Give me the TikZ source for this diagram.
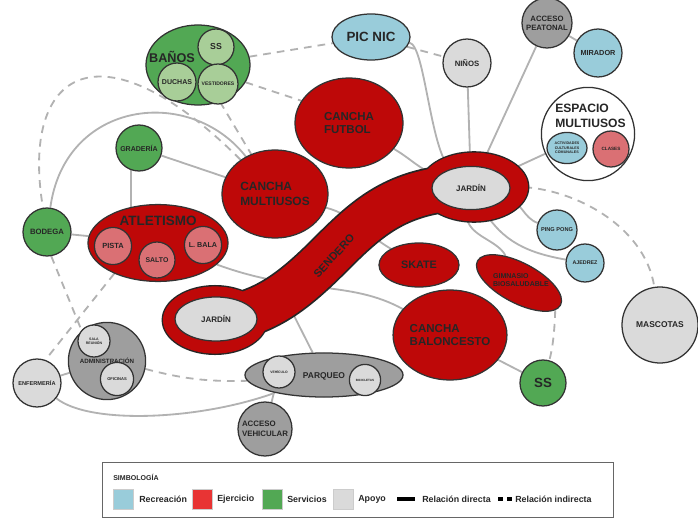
\documentclass[tikz,border=0pt]{standalone}
\usepackage{fontspec}
\setmainfont{Liberation Sans}
\usetikzlibrary{shapes.geometric}
\definecolor{recblue}{RGB}{153,204,218}
\definecolor{ejred}{RGB}{190,8,8}
\definecolor{ejpink}{RGB}{218,112,116}
\definecolor{servgreen}{RGB}{82,168,84}
\definecolor{servlight}{RGB}{168,206,152}
\definecolor{apogray}{RGB}{218,218,218}
\definecolor{accgray}{RGB}{158,158,158}
\definecolor{relgray}{RGB}{178,178,178}
\definecolor{legred}{RGB}{232,52,52}
\newcommand\fsz[1]{\fontsize{#1}{\the\dimexpr #1pt*6/5\relax}\selectfont}
\pgfdeclarelayer{lines}
\pgfdeclarelayer{walk}
\pgfsetlayers{lines,walk,main}

\begin{document}
\begin{tikzpicture}[x=0.025cm, y=-0.025cm,
  zone/.style={draw=black!80, line width=0.9pt, inner sep=0pt, align=center, text=black!85},
  fs/.style={font=\bfseries\fsz{#1}},
  circ/.style={zone, circle, minimum size=#1},
  ell/.style 2 args={zone, ellipse, minimum width=#1, minimum height=#2},
  recre/.style={fill=recblue},
  ejer/.style={fill=ejred},
  ejsub/.style={fill=ejpink},
  serv/.style={fill=servgreen},
  servsub/.style={fill=servlight},
  apoyo/.style={fill=apogray},
  acceso/.style={fill=accgray},
  lbl/.style={inner sep=0pt, align=left, text=black!85},
  rel/.style={draw=relgray, line width=1.3pt},
  indir/.style={rel, dash pattern=on 5.5pt off 4.3pt},
  swatch/.style={draw=black!20, line width=0.4pt, minimum size=0.5cm, inner sep=0pt}
]
\useasboundingbox (0,0) rectangle (698,519);

\node[ell={2.6cm}{2.0cm}, serv] (banos) at (198,65) {};
\node[lbl, fs=9] (banostxt) at (172,57) {BAÑOS};
\node[circ=0.9cm, servsub, fs=6.2] (ssb) at (216,47) {SS};
\node[circ=0.95cm, servsub, fs=5] (duchas) at (177,82) {DUCHAS};
\node[circ=1.0cm, servsub, fs=3.6] (vest) at (218,84) {VESTIDORES};

\node[ell={1.95cm}{1.15cm}, recre, fs=9.5] (picnic) at (371,37) {PIC NIC};
\node[circ=1.2cm, apoyo, fs=5.5] (ninos) at (467,63) {NIÑOS};
\node[circ=1.25cm, acceso, fs=5.5] (accpeat) at (547,23) {ACCESO\\PEATONAL};
\node[circ=1.2cm, recre, fs=5.2] (mirador) at (598,53) {MIRADOR};

\node[circ=2.33cm, fill=white] (espacio) at (588,134) {};
\node[lbl, fs=8.6, anchor=west] (espaciotxt) at (555,116) {ESPACIO\\MULTIUSOS};
\node[ell={1.0cm}{0.78cm}, recre, fs=2.6] (activ) at (567,148) {ACTIVIDADES\\CULTURALES\\COMUNALES};
\node[circ=0.9cm, ejsub, fs=3.3] (clases) at (611,149) {CLASES};

\node[ell={2.7cm}{2.25cm}, ejer, fs=8.2, align=left] (futbol) at (349,123) {CANCHA\\FUTBOL};
\node[ell={2.65cm}{2.2cm}, ejer, fs=8.5, align=left] (multiusos) at (275,194) {CANCHA\\MULTIUSOS};
\node[circ=1.15cm, serv, fs=5] (graderia) at (139,148) {GRADERÍA};
\node[circ=1.2cm, serv, fs=5.5] (bodega) at (47,232) {BODEGA};

\node[ell={3.5cm}{1.92cm}, ejer] (atletismo) at (158,243) {};
\node[lbl, fs=9.6] (atletismotxt) at (158,221) {ATLETISMO};
\node[circ=0.93cm, ejsub, fs=5.3] (pista) at (113,246) {PISTA};
\node[circ=0.9cm, ejsub, fs=4.9] (salto) at (157,260) {SALTO};
\node[circ=0.93cm, ejsub, fs=5.1] (lbala) at (203,245) {L. BALA};

\node[ell={1.95cm}{1.08cm}, apoyo, fs=5.7] (jard1) at (471,188) {JARDÍN};
\node[ell={2.05cm}{1.1cm}, apoyo, fs=5.7] (jard2) at (216,319) {JARDÍN};
\node[lbl, fs=7.8, rotate=47] (sendero) at (334,256) {SENDERO};
\coordinate (sendpt) at (282,292);

\node[ell={2.0cm}{1.1cm}, ejer, fs=7.7] (skate) at (419,265) {SKATE};
\node[ell={2.35cm}{1.0cm}, ejer, rotate=-28] (gimnasio) at (519,283) {};
\node[lbl, fs=5] (gimnasiotxt) at (521,280) {GIMNASIO\\BIOSALUDABLE};
\node[ell={2.75cm}{2.25cm}, ejer, fs=8.2, align=left] (baloncesto) at (450,335) {CANCHA\\BALONCESTO};
\node[circ=1.0cm, recre, fs=4] (pingpong) at (557,230) {PING PONG};
\node[circ=0.95cm, recre, fs=3.8] (ajedrez) at (585,263) {AJEDREZ};
\node[circ=1.9cm, apoyo, fs=6] (mascotas) at (660,325) {MASCOTAS};
\node[circ=1.15cm, serv, fs=9.5] (ss2) at (543,383) {SS};

\node[circ=1.93cm, acceso, fs=4.4] (admin) at (107,361) {ADMINISTRACIÓN};
\node[circ=0.8cm, apoyo, fs=2.5] (salareu) at (94,341) {SALA\\REUNIÓN};
\node[circ=0.83cm, apoyo, fs=2.9] (oficinas) at (117,379) {OFICINAS};
\node[circ=1.2cm, apoyo, fs=4] (enfermeria) at (37,383) {ENFERMERÍA};
\node[ell={3.95cm}{1.1cm}, acceso] (parqueo) at (324,375) {};
\node[lbl, fs=6] (parqueotxt) at (324,376) {PARQUEO};
\node[circ=0.8cm, apoyo, fs=2.4] (vehiculo) at (279,372) {VEHÍCULO};
\node[circ=0.78cm, apoyo, fs=2.2] (bicicletas) at (365,380) {BICICLETAS};
\node[circ=1.35cm, acceso, fs=5.6, align=left] (accveh) at (265,429) {ACCESO\\VEHICULAR};

\begin{pgfonlayer}{walk}
  \draw[black!85, line width=34pt, line cap=round] (216,320) .. controls (265,315) and (295,290) .. (331,254) .. controls (370,215) and (400,188) .. (474,187);
  \filldraw[black!85, line width=2pt] (474,187) ellipse [x radius=1.35cm, y radius=0.86cm] (215,320) ellipse [x radius=1.3cm, y radius=0.84cm];
  \draw[ejred, line width=31.5pt, line cap=round] (216,320) .. controls (265,315) and (295,290) .. (331,254) .. controls (370,215) and (400,188) .. (474,187);
  \fill[ejred] (474,187) ellipse [x radius=1.35cm, y radius=0.86cm] (215,320) ellipse [x radius=1.3cm, y radius=0.84cm];
\end{pgfonlayer}

\begin{pgfonlayer}{lines}
  \draw[rel] (picnic) .. controls (425,45) and (430,150) .. (jard1);
  \draw[rel] (ninos) -- (jard1);
  \draw[rel] (accpeat) -- (jard1);
  \draw[rel] (accpeat) -- (mirador);
  \draw[rel] (espacio) -- (jard1);
  \draw[rel] (jard1) to[out=-15, in=160] (pingpong);
  \draw[rel] (jard1) to[out=-60, in=170] (ajedrez);
  \draw[rel] (jard1) to[out=-100, in=130] (gimnasio);
  \draw[rel] (futbol) to[out=-30, in=160] (jard1);
  \draw[rel] (multiusos) to[out=-15, in=150] (skate);
  \draw[rel] (graderia) -- (multiusos);
  \draw[rel] (graderia.250) -- (graderia.250 |- atletismo.center);
  \draw[rel] (bodega) -- (atletismo);
  \draw[rel] (bodega) .. controls (65,100) and (190,85) .. (multiusos);
  \draw[rel] (atletismo) .. controls (300,295) and (350,280) .. (baloncesto);
  \draw[rel] (sendpt) -- (parqueo);
  \draw[rel] (accveh) -- (vehiculo);
  \draw[rel] (enfermeria) -- (admin);
  \draw[rel] (enfermeria) .. controls (90,425) and (200,420) .. (parqueo);
  \draw[rel] (baloncesto) -- (ss2);
  \draw[indir] (banos) -- (picnic);
  \draw[indir] (picnic) -- (ninos);
  \draw[indir] (banos.-20) -- (futbol.155);
  \draw[indir] (banos) -- (multiusos);
  \draw[indir] (multiusos) .. controls (100,20) and (20,70) .. (bodega);
  \draw[indir] (bodega.-80) -- (admin.130);
  \draw[indir] (atletismo.-145) -- (enfermeria.70);
  \draw[indir] (admin) to[bend right=8] (parqueo);
  \draw[indir] (jard1) .. controls (570,185) and (645,225) .. (mascotas);
  \draw[indir] (gimnasio) .. controls (555,310) and (555,340) .. (ss2);
\end{pgfonlayer}

\node[draw=black!60, line width=0.6pt, minimum width=12.775cm, minimum height=1.375cm, inner sep=0pt] (legend) at (357.5,489.5) {};
\node[lbl, fs=5, anchor=west] (simb) at (113,477) {SIMBOLOGÍA};
\node[swatch, fill=recblue] (swrec) at (123,499) {};
\node[lbl, fs=6.3, anchor=west] (txrec) at (139,499) {Recreación};
\node[swatch, fill=legred] (swejer) at (202,499) {};
\node[lbl, fs=6.3, anchor=west] (txejer) at (217,499) {Ejercicio};
\node[swatch, fill=servgreen] (swserv) at (272,499) {};
\node[lbl, fs=6.3, anchor=west] (txserv) at (287,499) {Servicios};
\node[swatch, fill=apogray] (swapo) at (343,499) {};
\node[lbl, fs=6.3, anchor=west] (txapo) at (358,499) {Apoyo};
\draw[line width=2.2pt] (397,499) -- (415,499);
\node[lbl, fs=6.3, anchor=west] (txdir) at (422,499) {Relación directa};
\draw[line width=2.2pt, dash pattern=on 3.6pt off 2.8pt] (498,499) -- (512,499);
\node[lbl, fs=6.3, anchor=west] (txind) at (515,499) {Relación indirecta};
\end{tikzpicture}
\end{document}
